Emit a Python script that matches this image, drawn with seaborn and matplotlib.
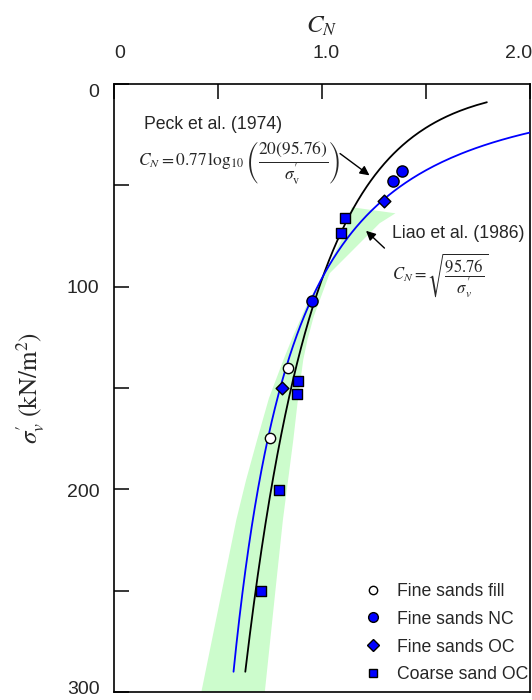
import numpy as np
import pandas as pd
import matplotlib
matplotlib.use("Agg")
import matplotlib.pyplot as plt
import matplotlib.transforms as mtransforms
from matplotlib.lines import Line2D
import seaborn as sns

# ---- measured points (sigma'_v in kN/m^2, C_N) ----
fill_sigma = [140.3, 174.8]
fill_cn = [0.837, 0.750]
nc_sigma = [42.8, 47.9, 107.1]
nc_cn = [1.387, 1.341, 0.954]
oc_sigma = [57.6, 149.8]
oc_cn = [1.297, 0.810]
coarse_sigma = [66.0, 73.4, 146.5, 152.9, 200.1, 250.0]
coarse_cn = [1.112, 1.093, 0.885, 0.882, 0.792, 0.705]

# ---- envelope of field data (shaded band) ----
band_left_sigma = [60.8, 73.6, 81.9, 98.3, 107.0, 124.6, 136.0, 155.0, 175.6, 195.4, 215.1, 248.0, 300.0, 310.0]
band_left_cn = [1.143, 1.110, 1.069, 0.985, 0.935, 0.860, 0.815, 0.745, 0.688, 0.635, 0.588, 0.523, 0.420, 0.400]
band_right_sigma = [63.8, 68.7, 81.9, 93.4, 114.8, 126.3, 136.0, 155.0, 175.6, 195.4, 215.1, 248.0, 300.0, 310.0]
band_right_cn = [1.353, 1.277, 1.149, 1.037, 0.960, 0.930, 0.910, 0.885, 0.862, 0.837, 0.812, 0.778, 0.725, 0.715]

# ---- correlation parameters ----
pa = 95.76
peck_sigma_range = (9.0, 290.0)
liao_sigma_range = (18.0, 290.0)

# ---- tick labels ----
x_ticks = [0, 1.0, 2.0]
x_ticklabels = ["0", "1.0", "2.0"]
y_ticks = [0, 100, 200, 300]
y_ticklabels = ["0", "100", "200", "300"]

sns.set_style("white")
plt.rcParams["font.family"] = ["Liberation Sans", "DejaVu Sans"]
plt.rcParams["mathtext.fontset"] = "stix"

fig = plt.figure(figsize=(5.32, 7.0), dpi=100)
ax = fig.add_axes([114 / 532, 8 / 700, 416 / 532, 608 / 700])

# shaded band
poly_cn = band_right_cn + band_left_cn[::-1]
poly_sigma = band_right_sigma + band_left_sigma[::-1]
ax.fill(poly_cn, poly_sigma, color="#ccfccc", lw=0, zorder=1)

# Peck et al. (1974)
s_peck = np.linspace(*peck_sigma_range, 400)
peck = pd.DataFrame({"sigma": s_peck, "cn": 0.77 * np.log10(20 * pa / s_peck)})
sns.lineplot(data=peck, x="cn", y="sigma", sort=False, estimator=None,
             color="black", lw=1.3, ax=ax, zorder=3)

# Liao and Whitman (1986)
s_liao = np.linspace(*liao_sigma_range, 400)
liao = pd.DataFrame({"sigma": s_liao, "cn": np.sqrt(pa / s_liao)})
sns.lineplot(data=liao, x="cn", y="sigma", sort=False, estimator=None,
             color="#0000ff", lw=1.3, ax=ax, zorder=3)

# data points
groups = [
    ("Fine sands fill", fill_cn, fill_sigma, "o", "white", 55),
    ("Fine sands NC", nc_cn, nc_sigma, "o", "#0000ff", 65),
    ("Fine sands OC", oc_cn, oc_sigma, "D", "#0000ff", 42),
    ("Coarse sand OC", coarse_cn, coarse_sigma, "s", "#0000ff", 45),
]
for name, xs, ys, mk, fc, size in groups:
    sns.scatterplot(x=xs, y=ys, marker=mk, color=fc, edgecolor="black",
                    linewidth=1.0, s=size, ax=ax, zorder=5, legend=False)

handles = [
    Line2D([], [], ls="none", marker="o", ms=6, mfc="white", mec="black", mew=1.0),
    Line2D([], [], ls="none", marker="o", ms=7, mfc="#0000ff", mec="black", mew=1.0),
    Line2D([], [], ls="none", marker="D", ms=6, mfc="#0000ff", mec="black", mew=1.0),
    Line2D([], [], ls="none", marker="s", ms=5.5, mfc="#0000ff", mec="black", mew=1.0),
]
ax.legend(handles, [g[0] for g in groups], loc="lower left",
          bbox_to_anchor=(0.601, 0.014), frameon=False, fontsize=12.7,
          handlelength=1.0, handletextpad=0.85, labelspacing=0.62,
          borderpad=0, borderaxespad=0)

# annotations
ax.text(0.143, 20.2, "Peck et al. (1974)", fontsize=12.7, ha="left", va="center")
ax.text(0.116, 38.5,
        r"$C_N = 0.77\,\log_{10}\left(\dfrac{20(95.76)}{\sigma^{\prime}_{\mathrm{v}}}\right)$",
        fontsize=12.5, ha="left", va="center")
ax.annotate("", xy=(1.239, 45.9), xytext=(1.076, 33.5),
            arrowprops=dict(arrowstyle="-|>", color="black", lw=1.0,
                            mutation_scale=14), zorder=6)

ax.text(1.335, 73.7, "Liao et al. (1986)", fontsize=12.7, ha="left", va="center")
ax.text(1.335, 94.5, r"$C_N = \sqrt{\dfrac{95.76}{\sigma^{\prime}_{v}}}$",
        fontsize=12, ha="left", va="center")
ax.annotate("", xy=(1.202, 71.5), xytext=(1.31, 81.9),
            arrowprops=dict(arrowstyle="-|>", color="black", lw=1.0,
                            mutation_scale=14), zorder=6)

# axes
ax.set_xlim(0, 2.0)
ax.set_ylim(300, 0)
ax.xaxis.tick_top()
ax.xaxis.set_label_position("top")
ax.set_xticks(x_ticks)
ax.set_xticklabels(x_ticklabels)
ax.set_xticks([0.5, 1.5], minor=True)
ax.set_yticks(y_ticks)
ax.set_yticklabels(y_ticklabels)
ax.set_yticks([50, 150, 250], minor=True)
ax.tick_params(axis="both", which="both", direction="in", length=10.5,
               width=1.1, color="black", labelsize=14)
ax.tick_params(axis="x", which="both", top=True, bottom=False, pad=16)
ax.tick_params(axis="y", which="both", left=True, right=False, pad=10.5)
for sp in ax.spines.values():
    sp.set_color("black")
    sp.set_linewidth(1.2)

# small nudges of the end tick labels (points)
x_shift = [4, 3, -8]
y_shift = [-5, 0, -1, 3]
for lab, dx in zip(ax.get_xticklabels(), x_shift):
    lab.set_transform(lab.get_transform() +
                      mtransforms.ScaledTranslation(dx / 72, 0, fig.dpi_scale_trans))
for lab, dy in zip(ax.get_yticklabels(), y_shift):
    lab.set_transform(lab.get_transform() +
                      mtransforms.ScaledTranslation(0, dy / 72, fig.dpi_scale_trans))

ax.set_xlabel(r"$C_N$", fontsize=18, labelpad=9)
ax.set_ylabel(r"$\sigma^{\prime}_{v}\ (\mathrm{kN/m^2})$", fontsize=18, labelpad=14)

fig.savefig("out.png", dpi=100)
